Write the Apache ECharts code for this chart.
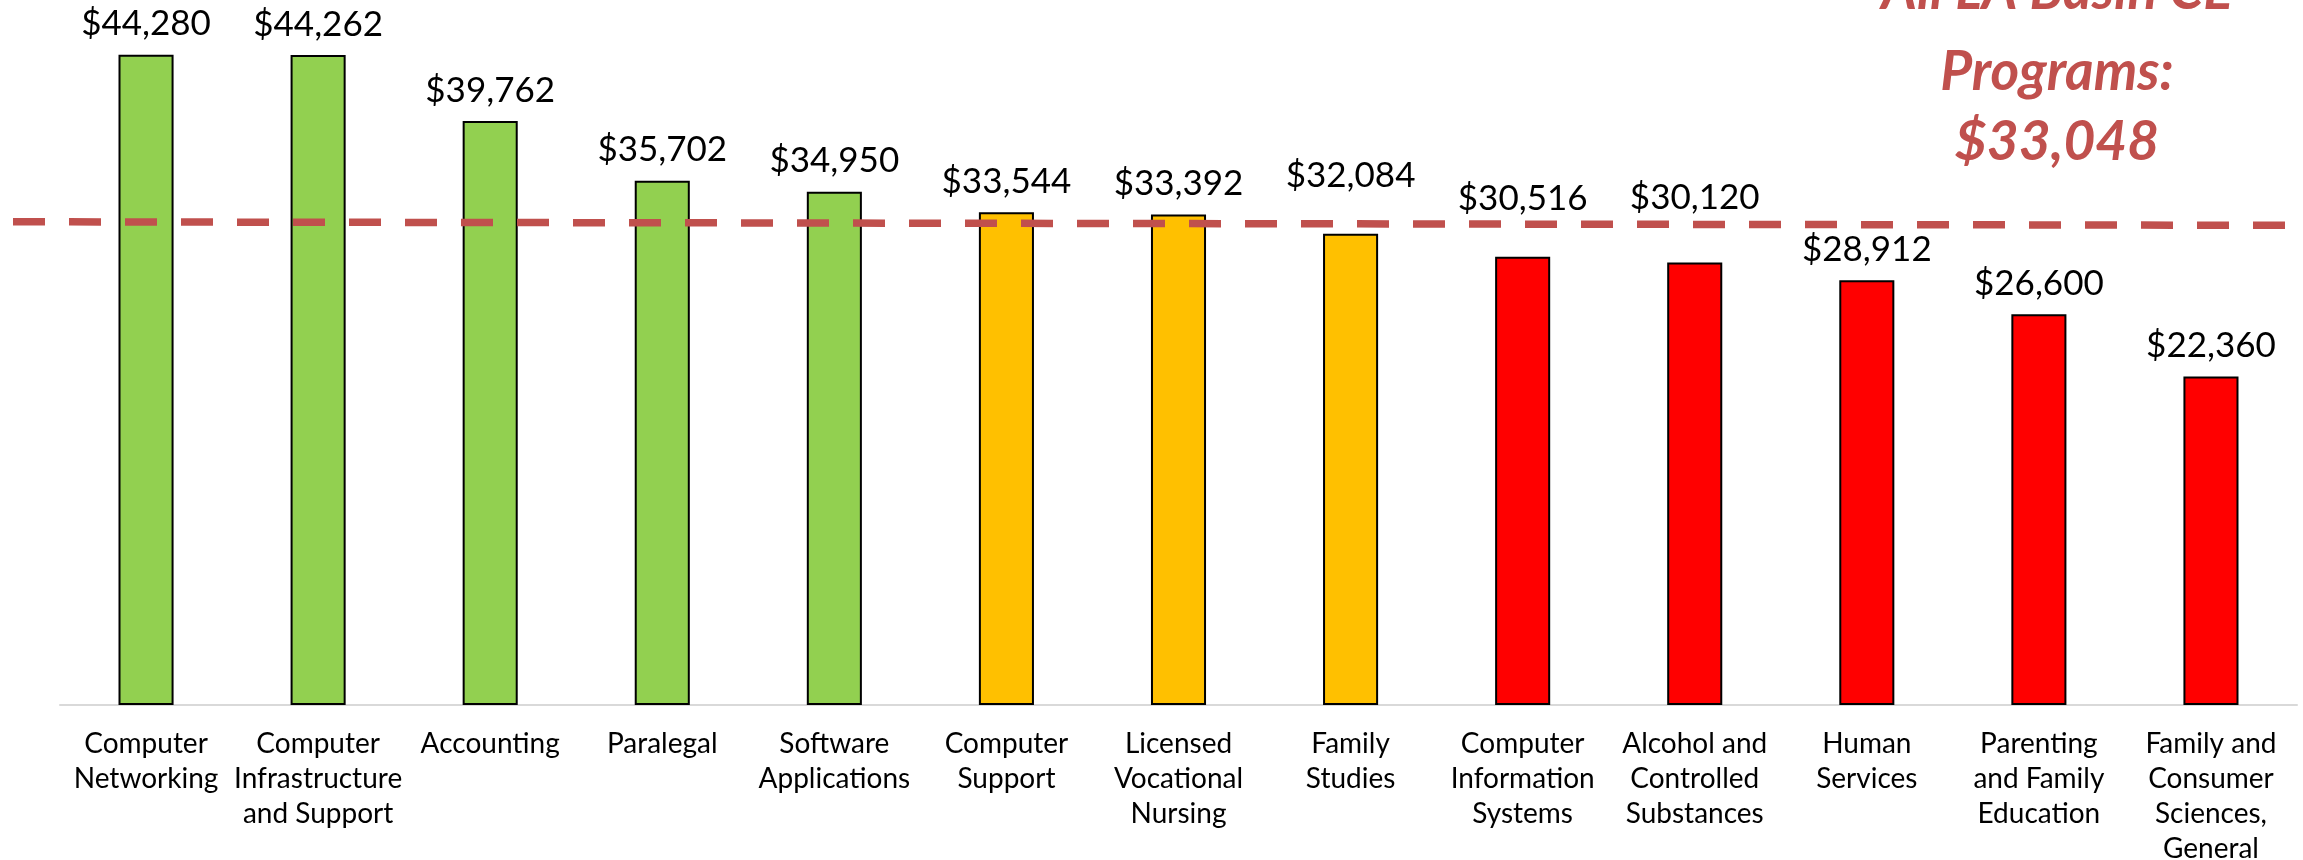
<!DOCTYPE html>
<html>
<head>
<meta charset="utf-8">
<script src="https://cdn.jsdelivr.net/npm/echarts@6/dist/echarts.min.js"></script>
<style>
html,body{margin:0;padding:0;background:#fff;}
#chart{width:2303px;height:860px;}
</style>
</head>
<body>
<div id="chart"></div>
<script>
const categories = [
  'Computer\nNetworking',
  'Computer\nInfrastructure\nand Support',
  'Accounting',
  'Paralegal',
  'Software\nApplications',
  'Computer\nSupport',
  'Licensed\nVocational\nNursing',
  'Family\nStudies',
  'Computer\nInformation\nSystems',
  'Alcohol and\nControlled\nSubstances',
  'Human\nServices',
  'Parenting\nand Family\nEducation',
  'Family and\nConsumer\nSciences,\nGeneral'
];
const earnings = [44280, 44262, 39762, 35702, 34950, 33544, 33392, 32084, 30516, 30120, 28912, 26600, 22360];
const tiers = ['high','high','high','high','high','mid','mid','mid','low','low','low','low','low'];
const basinAverage = 33048;
// where the hand-drawn dashed average line sits at its left and right ends
const averageLineEnds = [32900, 32660];
const annotationLines = ['All LA Basin CE', 'Programs:', '$33,048'];

const tierColors = { high: '#92D050', mid: '#FFC000', low: '#FF0000' };
const fmt = v => '$' + v.toLocaleString('en-US');

const chart = echarts.init(document.getElementById('chart'), null, { renderer: 'canvas' });

const titleColor = '#C0504D';
const titleFont = { fontFamily: 'Lato', fontWeight: 'bold', fontStyle: 'italic', fontSize: 55 };
const titleYs = [-9, 72, 142];

// labels lifted above the dashed line in the original
const labelDistance = v => (v < basinAverage && v > 29500) ? (v > 30300 ? 41 : 47) : 13;

chart.setOption({
  animation: false,
  backgroundColor: '#ffffff',
  grid: [
    { left: 60, right: 6, top: 0, bottom: 155, outerBoundsMode: 'none', containLabel: false },
    { left: 13, right: 17, top: 0, bottom: 155, outerBoundsMode: 'none', containLabel: false }
  ],
  xAxis: [
    {
      type: 'category', gridIndex: 0, data: categories,
      axisTick: { show: false },
      axisLine: { lineStyle: { color: '#D9D9D9', width: 2 } },
      axisLabel: { interval: 0, margin: 21, fontFamily: 'Lato', fontSize: 28, lineHeight: 35, color: '#000000' }
    },
    { type: 'value', gridIndex: 1, min: 0, max: 1, show: false }
  ],
  yAxis: [
    { type: 'value', gridIndex: 0, min: 0, max: 48000, show: false, splitLine: { show: false } },
    { type: 'value', gridIndex: 1, min: 0, max: 48000, show: false, splitLine: { show: false } }
  ],
  series: [
    {
      type: 'bar', xAxisIndex: 0, yAxisIndex: 0,
      barWidth: '32%',
      data: earnings.map((v, i) => ({
        value: v,
        itemStyle: { color: tierColors[tiers[i]], borderColor: '#000000', borderWidth: 2 },
        label: { distance: labelDistance(v) }
      })),
      label: {
        show: true, position: 'top', distance: 13,
        formatter: p => fmt(p.value),
        fontFamily: 'Lato', fontSize: 35, color: '#000000'
      },
      z: 2
    },
    {
      type: 'line', xAxisIndex: 1, yAxisIndex: 1,
      data: [[0, averageLineEnds[0]], [1, averageLineEnds[1]]],
      symbol: 'none',
      lineStyle: { color: titleColor, width: 7.5, type: [32, 24], cap: 'butt' },
      z: 5, silent: true
    }
  ],
  graphic: annotationLines.map((t, i) => ({
    type: 'text', x: 2057, y: titleYs[i], z: 10,
    style: Object.assign({ text: t, fill: titleColor, textAlign: 'center', textVerticalAlign: 'middle' }, titleFont)
  }))
});
</script>
</body>
</html>
